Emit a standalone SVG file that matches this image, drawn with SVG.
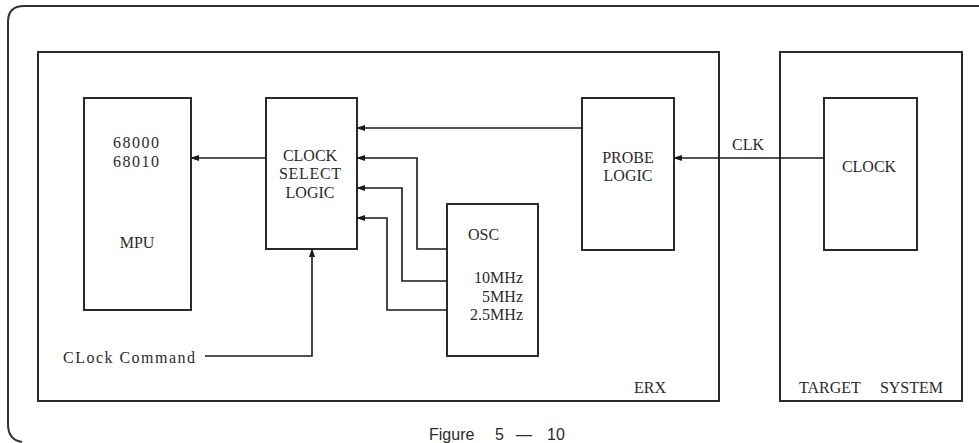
<svg xmlns="http://www.w3.org/2000/svg" width="979" height="443" viewBox="0 0 979 443">
<style>
  .box{fill:none;stroke:#2a2a2a;stroke-width:2}
  .frame{fill:none;stroke:#333;stroke-width:2}
  .wire{fill:none;stroke:#1a1a1a;stroke-width:1.6}
  text{font-family:"Liberation Serif","Times New Roman",serif;font-size:16px;fill:#2a2a2a}
  .c{text-anchor:middle}
  .r{text-anchor:end}
  .cap{font-family:"Liberation Sans",Arial,sans-serif;font-size:16px}
</style>
<defs>
  <marker id="ah" markerUnits="userSpaceOnUse" markerWidth="9" markerHeight="6" refX="8" refY="3" orient="auto">
    <path d="M0,0 L9,3 L0,6 z" fill="#1a1a1a"/>
  </marker>
</defs>
<rect width="979" height="443" fill="#fff"/>
<path class="frame" d="M979 6 H24 Q8 6 8 22 V424 Q8 440 22 442"/>
<text class="cap" y="440"><tspan x="429">Figure</tspan><tspan x="495">5</tspan><tspan x="516">—</tspan><tspan x="547">10</tspan></text>

<g id="erx">
  <rect class="box" x="38" y="52" width="681" height="349"/>
  <text x="634" y="393">ERX</text>
</g>
<g id="target-system">
  <rect class="box" x="780" y="52" width="182" height="349"/>
  <text x="799" y="393">TARGET</text>
  <text class="r" x="943" y="393">SYSTEM</text>
</g>
<g id="mpu">
  <rect class="box" x="84" y="98" width="107" height="212"/>
  <text class="c" x="136" y="148" textLength="46">68000</text>
  <text class="c" x="136" y="167" textLength="46">68010</text>
  <text class="c" x="137" y="248">MPU</text>
</g>
<g id="clock-select-logic">
  <rect class="box" x="266" y="98" width="91" height="151"/>
  <text class="c" x="310" y="161">CLOCK</text>
  <text class="c" x="310" y="179" textLength="62">SELECT</text>
  <text class="c" x="310" y="198">LOGIC</text>
</g>
<g id="osc">
  <rect class="box" x="447" y="204" width="91" height="152"/>
  <text x="468" y="240">OSC</text>
  <text class="r" x="523" y="283">10MHz</text>
  <text class="r" x="523" y="302">5MHz</text>
  <text class="r" x="523" y="320">2.5MHz</text>
</g>
<g id="probe-logic">
  <rect class="box" x="582" y="98" width="92" height="152"/>
  <text class="c" x="628" y="163">PROBE</text>
  <text class="c" x="628" y="181">LOGIC</text>
</g>
<g id="clock">
  <rect class="box" x="824" y="98" width="93" height="152"/>
  <text class="c" x="869" y="172">CLOCK</text>
</g>
<g id="clock-command">
  <text x="63" y="363" textLength="132">CLock Command</text>
</g>

<g id="connectors">
  <path class="wire" d="M266 158 H191" marker-end="url(#ah)"/>
  <path class="wire" d="M582 128 H357" marker-end="url(#ah)"/>
  <path class="wire" d="M447 249 H417 V158 H357" marker-end="url(#ah)"/>
  <path class="wire" d="M447 281 H402 V188 H357" marker-end="url(#ah)"/>
  <path class="wire" d="M447 310 H387 V218 H357" marker-end="url(#ah)"/>
  <path class="wire" d="M205 356 H312 V249" marker-end="url(#ah)"/>
  <path class="wire" d="M824 158 H674" marker-end="url(#ah)"/>
  <text x="732" y="150">CLK</text>
</g>
</svg>
